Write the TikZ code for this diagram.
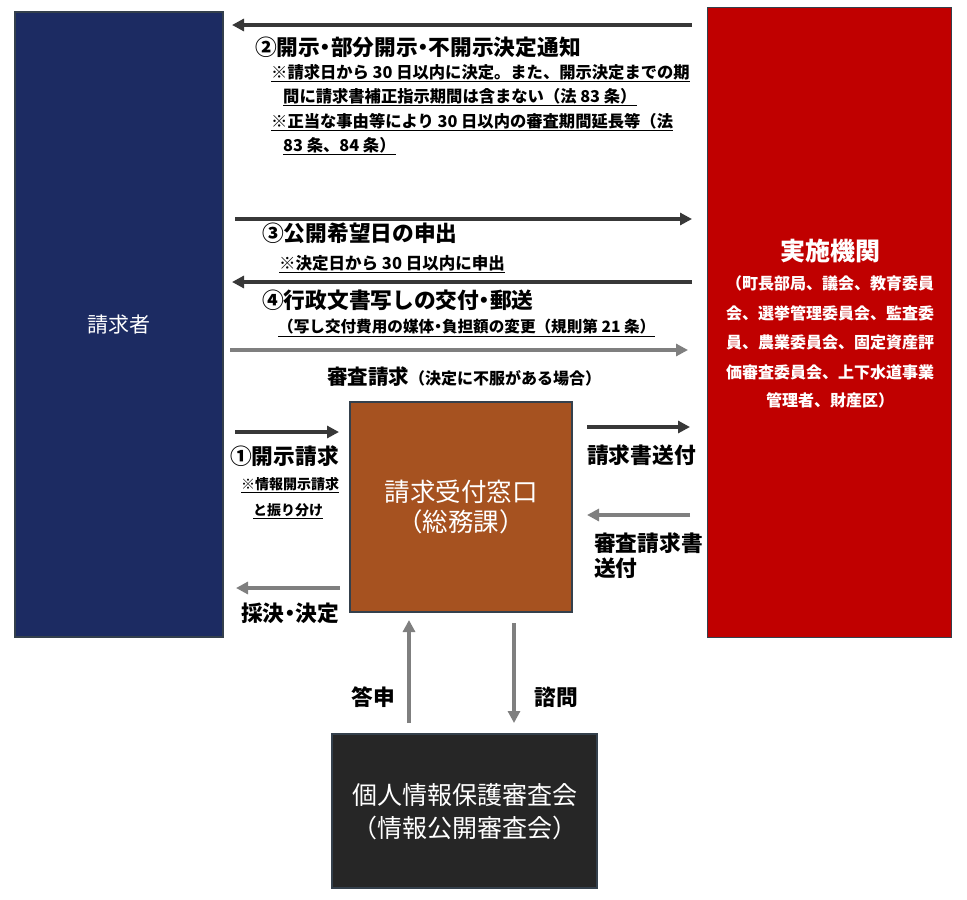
\documentclass[tikz,border=0pt]{standalone}
\usepackage{fontspec}
\setmainfont{Noto Sans CJK JP}
\usetikzlibrary{arrows.meta}
\definecolor{navybox}{HTML}{1C2B62}
\definecolor{redbox}{HTML}{C00000}
\definecolor{brownbox}{HTML}{A65220}
\definecolor{darkbox}{HTML}{262626}
\definecolor{boxline}{HTML}{34404C}
\definecolor{darkarrow}{HTML}{383838}
\definecolor{grayarrow}{HTML}{7F7F7F}
\newcommand\nakaguro{\kern-0.25em・\kern-0.25em}
\begin{document}
\begin{tikzpicture}[x=1pt,y=-1pt,
  box/.style={draw=boxline,line width=1.5pt,inner sep=0pt,text=white},
  darrow/.style={draw=darkarrow,line width=4pt,-{Triangle[length=12pt,width=12pt]}},
  garrow/.style={draw=grayarrow,line width=4pt,-{Triangle[length=12pt,width=12pt]}},
  lbl/.style={inner sep=0pt,font=\fontsize{21.7}{25}\selectfont\bfseries},
  note/.style={inner sep=0pt,font=\fontsize{16.3}{20}\selectfont\bfseries},
  wlbl/.style={inner sep=0pt,text=white,font=\fontsize{16}{19}\selectfont\bfseries},
  boxtxt/.style={inner sep=0pt,text=white,font=\fontsize{25.5}{30}\selectfont}
]
\useasboundingbox (0,0) rectangle (967,900);

% boxes
\node[box,fill=navybox,minimum width=208pt,minimum height=625pt,font=\fontsize{21}{25}\selectfont] (req) at (119,324.5) {請求者};
\node[box,fill=redbox,minimum width=244pt,minimum height=630pt] (org) at (829.5,322.5) {};
\node[box,fill=brownbox,minimum width=222pt,minimum height=210pt] (win) at (461,507) {};
\node[box,fill=darkbox,minimum width=265pt,minimum height=154pt] (cmt) at (464.5,811) {};

% box texts
\node[wlbl,font=\fontsize{25}{30}\selectfont\bfseries] (orgt) at (830,251) {実施機関};
\node[wlbl] (org1) at (830,283) {（町長部局、議会、教育委員};
\node[wlbl] (org2) at (830,313) {会、選挙管理委員会、監査委};
\node[wlbl] (org3) at (830,342) {員、農業委員会、固定資産評};
\node[wlbl] (org4) at (830,372) {価審査委員会、上下水道事業};
\node[wlbl] (org5) at (830,400) {管理者、財産区）};

\node[boxtxt] (wint1) at (461,492) {請求受付窓口};
\node[boxtxt] (wint2) at (461,522) {（総務課）};
\node[boxtxt,font=\fontsize{25}{30}\selectfont] (cmtt1) at (465,795) {個人情報保護審査会};
\node[boxtxt,font=\fontsize{25}{30}\selectfont] (cmtt2) at (465,828) {（情報公開審査会）};

% arrow end points
\coordinate (a2s) at (692,25);  \coordinate (a2e) at (232,25);
\coordinate (a3s) at (235,219); \coordinate (a3e) at (692,219);
\coordinate (a4s) at (692,282); \coordinate (a4e) at (232,282);
\coordinate (ass) at (230,350); \coordinate (ase) at (688,350);
\coordinate (a1s) at (235,432); \coordinate (a1e) at (339,432);
\coordinate (ads) at (340,588); \coordinate (ade) at (236,588);
\coordinate (aqs) at (587,427); \coordinate (aqe) at (690,427);
\coordinate (aks) at (690,515); \coordinate (ake) at (587,515);
\coordinate (ats) at (409,723); \coordinate (ate) at (409,620);
\coordinate (ams) at (514,623); \coordinate (ame) at (514,723);

\draw[darrow] (a2s) -- (a2e);
\draw[darrow] (a3s) -- (a3e);
\draw[darrow] (a4s) -- (a4e);
\draw[garrow] (ass) -- (ase);
\draw[darrow] (a1s) -- (a1e);
\draw[garrow] (ads) -- (ade);
\draw[darrow] (aqs) -- (aqe);
\draw[garrow] (aks) -- (ake);
\draw[garrow] (ats) -- (ate);
\draw[garrow] (ams) -- (ame);

% labels
\node[lbl,anchor=west] (l2) at (255,47) {②開示\nakaguro 部分開示\nakaguro 不開示決定通知};
\node[note,anchor=west] (n21) at (271,73) {\underline{※請求日から 30 日以内に決定。また、開示決定までの期}};
\node[note,anchor=west] (n22) at (283,97) {\underline{間に請求書補正指示期間は含まない（法 83 条）}};
\node[note,anchor=west] (n23) at (271,122) {\underline{※正当な事由等により 30 日以内の審査期間延長等（法}};
\node[note,anchor=west] (n24) at (283,146) {\underline{83 条、84 条）}};

\node[lbl,anchor=west] (l3) at (262,233) {③公開希望日の申出};
\node[note,anchor=west,font=\fontsize{16.5}{19}\selectfont\bfseries] (n3) at (279,264) {\underline{※決定日から 30 日以内に申出}};
\node[lbl,anchor=west] (l4) at (262,300) {④行政文書写しの交付\nakaguro 郵送};
\node[note,anchor=west,font=\fontsize{15.6}{18}\selectfont\bfseries] (n4) at (278,328) {\underline{（写し交付費用の媒体\nakaguro 負担額の変更（規則第 21 条）}};
\node[inner sep=0pt] (ls) at (464,377) {{\fontsize{20.5}{24}\selectfont\bfseries 審査請求}{\fontsize{16}{19}\selectfont\bfseries （決定に不服がある場合）}};

\node[lbl,anchor=west] (l1) at (230,456) {①開示請求};
\node[note,font=\fontsize{14}{18}\selectfont\bfseries] (n11) at (290,485) {\underline{※情報開示請求}};
\node[note,font=\fontsize{14}{18}\selectfont\bfseries] (n12) at (288,511) {\underline{と振り分け}};
\node[lbl,anchor=west] (ld) at (241,613) {採決\nakaguro 決定};
\node[lbl,anchor=west] (lq) at (587,455) {請求書送付};
\node[lbl,anchor=west] (lk1) at (594,543) {審査請求書};
\node[lbl,anchor=west] (lk2) at (594,568) {送付};
\node[lbl] (lt) at (373,697) {答申};
\node[lbl] (lm) at (556,697) {諮問};
\end{tikzpicture}
\end{document}
